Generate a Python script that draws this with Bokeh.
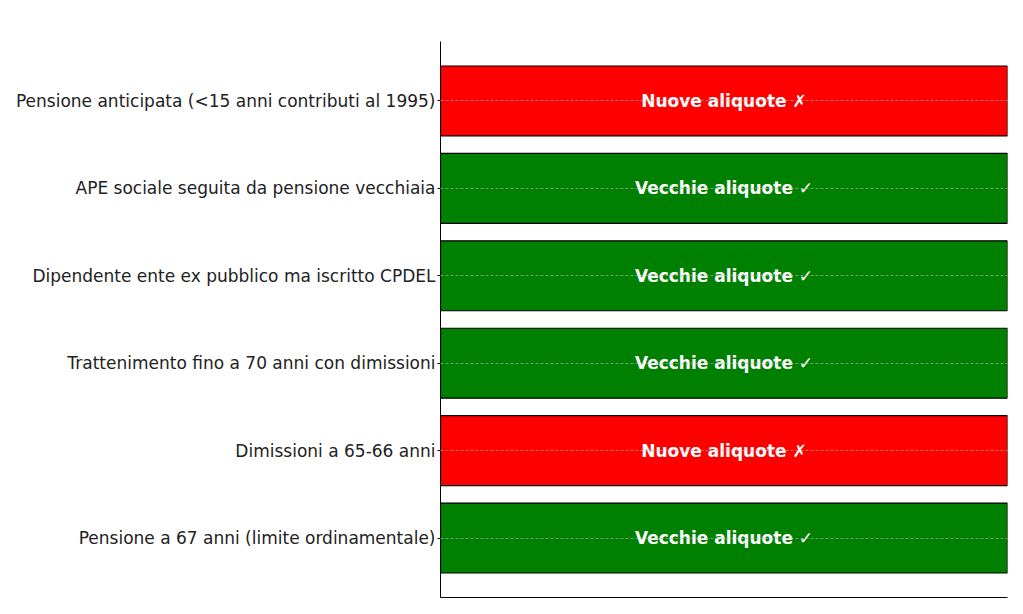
from bokeh.plotting import figure
from bokeh.models import Range1d, FixedTicker, ColumnDataSource
from bokeh.core.properties import value
from bokeh.embed import file_html
from bokeh.resources import INLINE

# data (bottom to top)
scenarios = [
    "Pensione a 67 anni (limite ordinamentale)",
    "Dimissioni a 65-66 anni",
    "Trattenimento fino a 70 anni con dimissioni",
    "Dipendente ente ex pubblico ma iscritto CPDEL",
    "APE sociale seguita da pensione vecchiaia",
    "Pensione anticipata (<15 anni contributi al 1995)",
]
outcomes = [
    "Vecchie aliquote ✓",
    "Nuove aliquote ✗",
    "Vecchie aliquote ✓",
    "Vecchie aliquote ✓",
    "Vecchie aliquote ✓",
    "Nuove aliquote ✗",
]
values = [1, 1, 1, 1, 1, 1]
colors = ["green" if o.startswith("Vecchie") else "red" for o in outcomes]

pos = list(range(len(scenarios)))
src = ColumnDataSource(dict(y=pos, right=values, color=colors, label=outcomes,
                            mid=[v / 2 for v in values]))

p = figure(frame_width=567, frame_height=556, output_backend="svg", toolbar_location=None,
           x_range=Range1d(0, 1), y_range=Range1d(-0.68, len(scenarios) - 1 + 0.68),
           min_border_left=440, min_border_right=10, min_border_top=41, min_border_bottom=0)
p.outline_line_color = None
p.background_fill_color = "white"

p.hbar(y="y", left=0, right="right", height=0.8, source=src,
       fill_color="color", line_color="black", line_width=1.2)
p.text(x="mid", y="y", text="label", source=src, text_align="center",
       text_baseline="middle", text_color="white", text_font_style="bold",
       text_font=value("DejaVu Sans"), text_font_size="17px")

p.yaxis.ticker = FixedTicker(ticks=pos)
p.yaxis.major_label_overrides = {i: s for i, s in zip(pos, scenarios)}
p.yaxis.major_label_text_font = "DejaVu Sans"
p.yaxis.major_label_text_font_size = "17px"
p.yaxis.major_label_text_color = "#222222"
p.yaxis.major_tick_out = 3
p.yaxis.major_tick_in = 0
p.yaxis.minor_tick_line_color = None
p.yaxis.axis_line_color = "black"
p.yaxis.major_label_standoff = 2

p.xaxis.major_tick_line_color = None
p.xaxis.minor_tick_line_color = None
p.xaxis.major_label_text_font_size = "0px"
p.xaxis.major_label_text_color = None
p.xaxis.axis_line_color = "black"

p.xgrid.grid_line_color = None
p.ygrid.ticker = FixedTicker(ticks=pos)
p.ygrid.grid_line_color = "#b0b0b0"
p.ygrid.grid_line_alpha = 0.8
p.ygrid.grid_line_dash = "3 2"
p.ygrid.grid_line_width = 0.8
p.ygrid.level = "overlay"

open("out.html", "w").write(file_html(p, INLINE))
